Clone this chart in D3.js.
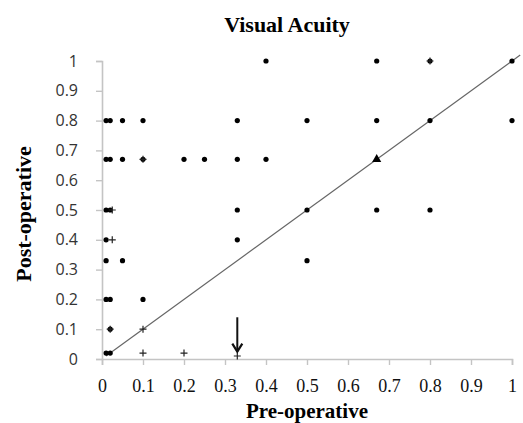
<!DOCTYPE html>
<html>
<head>
    <meta charset="utf-8">
    <title>Visual Acuity</title>
    <script src="https://d3js.org/d3.v7.min.js"></script>
    <style>
        body { margin: 0; background: white; }
    </style>
</head>
<body>
    <script>
        // pre-operative / post-operative visual acuity, filled dots
        const dotPre = [0.4, 0.67, 0.8, 1.0,
            0.01, 0.02, 0.05, 0.1, 0.33, 0.5, 0.67, 0.8, 1.0,
            0.01, 0.02, 0.05, 0.1, 0.2, 0.25, 0.33, 0.4,
            0.01, 0.02, 0.33, 0.5, 0.67, 0.8,
            0.01, 0.33,
            0.01, 0.05, 0.5,
            0.01, 0.02, 0.1,
            0.02,
            0.01, 0.02];
        const dotPost = [1.0, 1.0, 1.0, 1.0,
            0.8, 0.8, 0.8, 0.8, 0.8, 0.8, 0.8, 0.8, 0.8,
            0.67, 0.67, 0.67, 0.67, 0.67, 0.67, 0.67, 0.67,
            0.5, 0.5, 0.5, 0.5, 0.5, 0.5,
            0.4, 0.4,
            0.33, 0.33, 0.33,
            0.2, 0.2, 0.2,
            0.1,
            0.02, 0.02];

        // plus markers
        const plusPre = [0.8, 0.1, 0.025, 0.025, 0.02, 0.1, 0.1, 0.2, 0.33];
        const plusPost = [1.0, 0.67, 0.5, 0.4, 0.1, 0.1, 0.02, 0.02, 0.01];

        // triangle marker
        const triPre = [0.67];
        const triPost = [0.67];

        // y = x reference line, and the arrow
        const lineEnds = [0.01, 1.02];
        const arrowAt = 0.33;
        const arrowFrom = 0.14;
        const arrowTo = 0.025;

        const xTicks = [0, 0.1, 0.2, 0.3, 0.4, 0.5, 0.6, 0.7, 0.8, 0.9, 1];
        const yTicks = [0, 0.1, 0.2, 0.3, 0.4, 0.5, 0.6, 0.7, 0.8, 0.9, 1];

        const width = 523;
        const height = 423;

        const xScale = d3.scaleLinear().domain([0, 1]).range([102, 512]);
        const yScale = d3.scaleLinear().domain([0, 1]).range([359, 61]);

        const svg = d3.select('body').append('svg')
            .attr('width', width)
            .attr('height', height)
            .style('background-color', 'white');

        // title
        svg.append('text')
            .attr('x', 287)
            .attr('y', 32)
            .attr('text-anchor', 'middle')
            .style('font-family', 'Liberation Serif, serif')
            .style('font-size', '22px')
            .style('font-weight', 'bold')
            .text('Visual Acuity');

        // axes
        const xAxis = d3.axisBottom(xScale).tickValues(xTicks).tickSize(6).tickFormat(d3.format('~g'));
        const yAxis = d3.axisLeft(yScale).tickValues(yTicks).tickSize(6).tickFormat(d3.format('~g'));

        const xg = svg.append('g').attr('transform', 'translate(0,' + yScale(0) + ')').call(xAxis);
        const yg = svg.append('g').attr('transform', 'translate(' + xScale(0) + ',0)').call(yAxis);

        [xg, yg].forEach(g => {
            g.select('.domain').attr('stroke', '#c4c4c4').attr('stroke-width', 1.6);
            g.selectAll('.tick line').attr('stroke', '#c4c4c4').attr('stroke-width', 1.4);
        });

        xg.selectAll('.tick text')
            .attr('y', 33)
            .attr('dy', null)
            .style('font-family', 'Liberation Serif, serif')
            .style('font-size', '18px')
            .attr('fill', '#111');

        yg.selectAll('.tick text')
            .attr('x', -24)
            .style('font-family', 'Open Sans, sans-serif')
            .style('font-size', '16px')
            .attr('fill', '#333');

        // axis titles
        svg.append('text')
            .attr('x', 307)
            .attr('y', 418)
            .attr('text-anchor', 'middle')
            .style('font-family', 'Liberation Serif, serif')
            .style('font-size', '21px')
            .style('font-weight', 'bold')
            .text('Pre-operative');

        svg.append('text')
            .attr('transform', 'translate(31,214) rotate(-90)')
            .attr('text-anchor', 'middle')
            .style('font-family', 'Liberation Serif, serif')
            .style('font-size', '22px')
            .style('font-weight', 'bold')
            .text('Post-operative');

        // reference line
        const line = d3.line().x(d => xScale(d)).y(d => yScale(d));
        svg.append('path')
            .datum(lineEnds)
            .attr('fill', 'none')
            .attr('stroke', '#666')
            .attr('stroke-width', 1.2)
            .attr('d', line);

        // dots
        svg.append('g').selectAll('circle')
            .data(dotPre.map((d, i) => [d, dotPost[i]]))
            .enter().append('circle')
            .attr('cx', d => xScale(d[0]))
            .attr('cy', d => yScale(d[1]))
            .attr('r', 2.6)
            .attr('fill', '#000');

        // pluses
        svg.append('g').selectAll('path')
            .data(plusPre.map((d, i) => [d, plusPost[i]]))
            .enter().append('path')
            .attr('transform', d => 'translate(' + xScale(d[0]) + ',' + yScale(d[1]) + ')')
            .attr('d', 'M-3.5,0H3.5M0,-3.5V3.5')
            .attr('stroke', '#222')
            .attr('stroke-width', 1.2)
            .attr('fill', 'none');

        // triangle
        svg.append('g').selectAll('path')
            .data(triPre.map((d, i) => [d, triPost[i]]))
            .enter().append('path')
            .attr('transform', d => 'translate(' + xScale(d[0]) + ',' + yScale(d[1]) + ')')
            .attr('d', d3.symbol().type(d3.symbolTriangle).size(36))
            .attr('fill', '#000');

        // arrow
        const ax = xScale(arrowAt);
        svg.append('line')
            .attr('x1', ax).attr('x2', ax)
            .attr('y1', yScale(arrowFrom)).attr('y2', yScale(arrowTo))
            .attr('stroke', '#111')
            .attr('stroke-width', 2);
        svg.append('path')
            .attr('d', 'M' + (ax - 5) + ',' + (yScale(arrowTo) - 8) + 'L' + ax + ',' + yScale(arrowTo) + 'L' + (ax + 5) + ',' + (yScale(arrowTo) - 8))
            .attr('fill', 'none')
            .attr('stroke', '#111')
            .attr('stroke-width', 2.2);
    </script>
</body>
</html>
